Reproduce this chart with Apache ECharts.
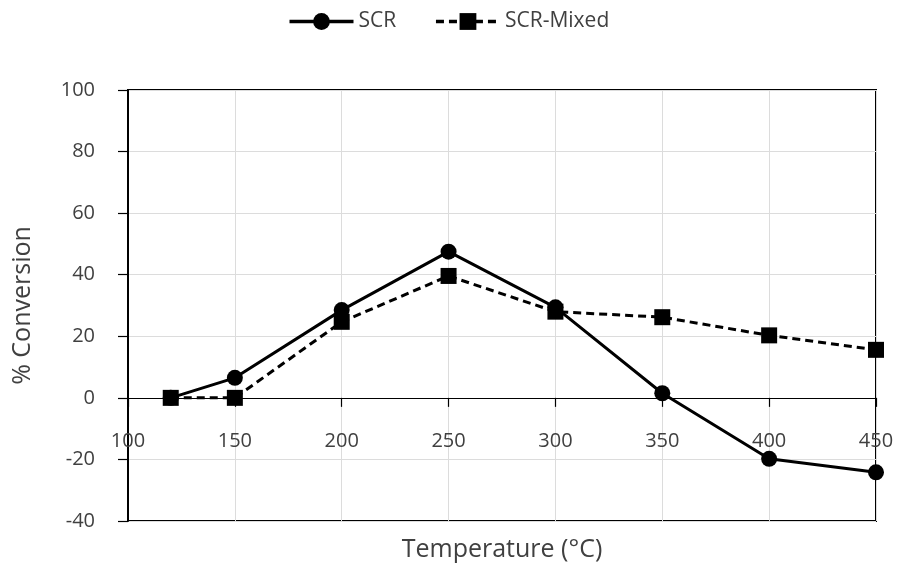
<!DOCTYPE html>
<html>
<head>
<meta charset="utf-8">
<script src="https://cdn.jsdelivr.net/npm/echarts@6/dist/echarts.min.js"></script>
<style>html,body{margin:0;padding:0;background:#fff}#c{width:897px;height:571px}</style>
</head>
<body>
<div id="c"></div>
<script>
var temperatures = [120, 150, 200, 250, 300, 350, 400, 450];
var scr = [0, 6.5, 28.5, 47.5, 29.4, 1.5, -19.8, -24.2];
var scrMixed = [0, 0, 24.7, 39.6, 28, 26.2, 20.3, 15.6];
var seriesNames = ['SCR', 'SCR-Mixed'];
var xTicks = {min: 100, max: 450, interval: 50};
var yTicks = {min: -40, max: 100, interval: 20};

function pairs(xs, ys) { return xs.map(function (x, i) { return [x, ys[i]]; }); }

var font = '"Open Sans", "Noto Sans", sans-serif';
var chart = echarts.init(document.getElementById('c'));
chart.setOption({
  animation: false,
  backgroundColor: '#fff',
  textStyle: {fontFamily: font},
  legend: {
    top: 6, left: 'center',
    itemWidth: 64, itemHeight: 21, itemGap: 38,
    textStyle: {fontSize: 21, color: '#404040', fontFamily: font},
    lineStyle: {width: 3.5},
    data: seriesNames
  },
  grid: {left: 128, right: 21, top: 90, bottom: 50, show: true, borderColor: '#000', borderWidth: 2, backgroundColor: 'transparent'},
  xAxis: [{
    type: 'value', min: xTicks.min, max: xTicks.max, interval: xTicks.interval,
    axisLine: {show: true, onZero: true, lineStyle: {color: '#000', width: 1.2}},
    axisTick: {show: true, inside: false, length: 9, lineStyle: {color: '#000', width: 1.2}},
    axisLabel: {fontSize: 20, color: '#404040', margin: -90, fontFamily: font},
    splitLine: {show: true, lineStyle: {color: '#dcdcdc', width: 1}}
  }, {
    type: 'value', min: xTicks.min, max: xTicks.max, position: 'bottom',
    axisLine: {show: false, onZero: false}, axisTick: {show: false}, axisLabel: {show: false}, splitLine: {show: false},
    name: 'Temperature (°C)', nameLocation: 'middle', nameGap: 16,
    nameTextStyle: {fontSize: 25, color: '#404040', fontFamily: font}
  }],
  yAxis: {
    type: 'value', min: yTicks.min, max: yTicks.max, interval: yTicks.interval,
    axisLine: {show: true, lineStyle: {color: '#000', width: 2}},
    axisTick: {show: true, length: 10, lineStyle: {color: '#000', width: 1.2}},
    axisLabel: {fontSize: 20, color: '#404040', margin: 33, fontFamily: font},
    splitLine: {show: true, lineStyle: {color: '#dcdcdc', width: 1}},
    name: '% Conversion', nameLocation: 'middle', nameGap: 93,
    nameTextStyle: {fontSize: 25, color: '#404040', fontFamily: font}
  },
  series: [{
    name: seriesNames[0], type: 'line', xAxisIndex: 0,
    data: pairs(temperatures, scr),
    symbol: 'circle', symbolSize: 16,
    itemStyle: {color: '#000'},
    lineStyle: {color: '#000', width: 3},
    z: 3
  }, {
    name: seriesNames[1], type: 'line', xAxisIndex: 0,
    data: pairs(temperatures, scrMixed),
    symbol: 'rect', symbolSize: 16,
    itemStyle: {color: '#000'},
    lineStyle: {color: '#000', width: 3, type: [8, 5]},
    z: 4
  }]
});
</script>
</body>
</html>
